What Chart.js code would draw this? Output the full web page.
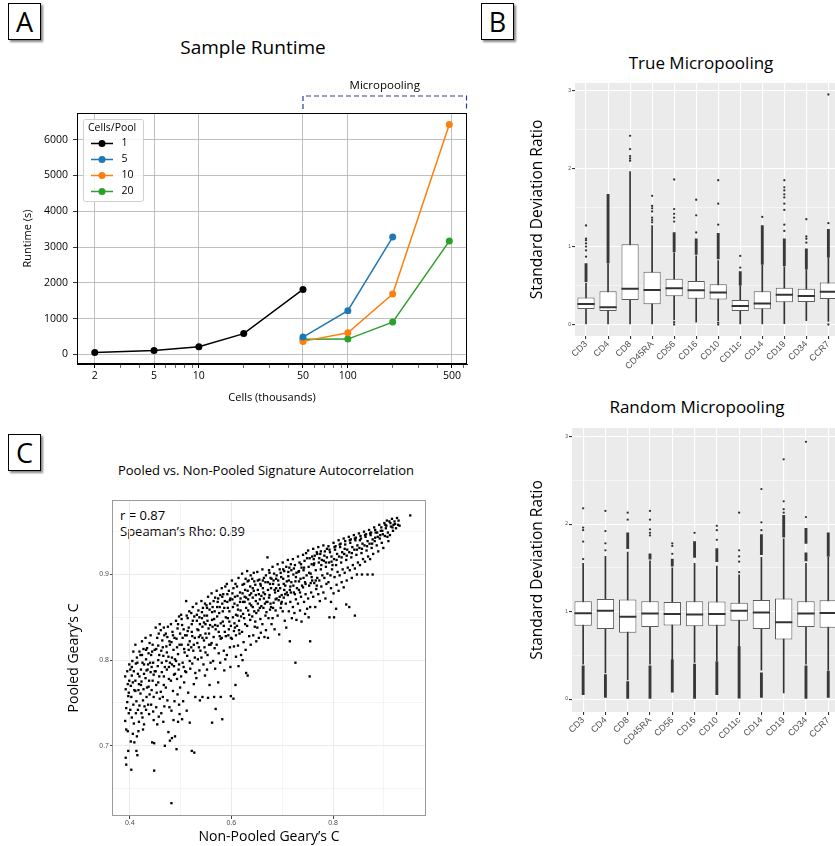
<!DOCTYPE html>
<html>
<head>
<meta charset="utf-8">
<script src="https://cdn.jsdelivr.net/npm/chart.js@4.4.1/dist/chart.umd.min.js"></script>
<style>
    html, body { margin: 0; padding: 0; background: #fff; }
    body { width: 835px; height: 846px; overflow: hidden; position: relative; font-family: "Open Sans", sans-serif; color: #000; }
    canvas { position: absolute; }
    .tag { position: absolute; width: 31px; height: 35px; border: 1.5px solid #000; box-shadow: 2px 2px 2px #888; background: #fff;
           font-size: 27px; line-height: 35px; text-align: center; }
    .title { position: absolute; white-space: nowrap; transform: translate(-50%, -50%); }
    .note { position: absolute; white-space: nowrap; transform: translateY(-50%); font-size: 13px; }
</style>
</head>
<body>
<div class="tag" style="left:8px;top:3px">A</div>
<div class="tag" style="left:481px;top:3px">B</div>
<div class="tag" style="left:8px;top:434px">C</div>

<div class="title" style="left:253px;top:47px;font-size:19px">Sample Runtime</div>
<div class="title" style="left:701px;top:62px;font-size:17px">True Micropooling</div>
<div class="title" style="left:697px;top:406px;font-size:17px">Random Micropooling</div>
<div class="title" style="left:266px;top:470px;font-size:13px">Pooled vs. Non-Pooled Signature Autocorrelation</div>
<div class="note" style="left:120px;top:515px">r = 0.87</div>
<div class="note" style="left:120px;top:531px">Speaman’s Rho: 0.89</div>

<canvas id="runtime" width="466" height="340" style="left:14px;top:70px"></canvas>
<canvas id="truePool" width="330" height="350" style="left:520px;top:50px"></canvas>
<canvas id="randomPool" width="330" height="365" style="left:520px;top:395px"></canvas>
<canvas id="geary" width="385" height="356" style="left:50px;top:490px"></canvas>

<script>
// ---- A: sample runtime ----
const cellsSingle = [2, 5, 10, 20, 50];
const runtimeSingle = [50, 110, 215, 580, 1815];
const cellsPooled = [50, 100, 200, 480];
const runtimePool5 = [483, 1220, 3277];
const runtimePool10 = [363, 605, 1685, 6425];
const runtimePool20 = [420, 427, 902, 3165];
const poolLabels = ['1', '5', '10', '20'];
const poolColors = ['#000000', '#1f77b4', '#ff7f0e', '#2ca02c'];
const runtimeTicks = [0, 1000, 2000, 3000, 4000, 5000, 6000];
const cellsMajorTicks = [2, 5, 10, 50, 100, 500];
const cellsMinorTicks = [3, 4, 6, 7, 8, 9, 20, 30, 40, 60, 70, 80, 90, 200, 300, 400, 600];

// ---- B: standard deviation ratio per marker ----
const markers = ['CD3', 'CD4', 'CD8', 'CD45RA', 'CD56', 'CD16', 'CD10', 'CD11c', 'CD14', 'CD19', 'CD34', 'CCR7'];
const sdTicks = [0, 0.5, 1, 1.5, 2, 2.5, 3];

const trueLow  = [0, 0, 0, 0, 0.06, 0.03, 0.05, 0, 0, 0.01, 0.05, 0.04];
const trueQ1   = [0.2, 0.174, 0.315, 0.26, 0.362, 0.33, 0.32, 0.174, 0.196, 0.285, 0.29, 0.328];
const trueMed  = [0.264, 0.22, 0.46, 0.443, 0.464, 0.44, 0.41, 0.238, 0.268, 0.38, 0.366, 0.42];
const trueQ3   = [0.345, 0.425, 1.03, 0.677, 0.587, 0.557, 0.515, 0.315, 0.425, 0.472, 0.46, 0.54];
const trueHigh = [0.53, 0.78, 1.96, 1.27, 0.92, 0.88, 0.82, 0.49, 0.76, 0.74, 0.7, 0.85];
// runs of overlapping outliers: [marker, from, to]
const trueBands = [
    ['CD3', 0.55, 0.78], ['CD4', 0.79, 1.67], ['CD56', 0.93, 1.18], ['CD16', 0.9, 1.1],
    ['CD10', 0.84, 1.17], ['CD11c', 0.5, 0.68], ['CD14', 0.77, 1.27], ['CD19', 0.75, 1.1],
    ['CD34', 0.71, 0.97], ['CCR7', 0.86, 1.22]
];
const trueOutliers = [
    ['CD3', 0.87], ['CD3', 0.95], ['CD3', 1.0], ['CD3', 1.04], ['CD3', 1.08], ['CD3', 1.1], ['CD3', 1.27],
    ['CD8', 2.1], ['CD8', 2.13], ['CD8', 2.16], ['CD8', 2.25], ['CD8', 2.42],
    ['CD45RA', 1.31], ['CD45RA', 1.34], ['CD45RA', 1.37], ['CD45RA', 1.45], ['CD45RA', 1.49], ['CD45RA', 1.52], ['CD45RA', 1.65],
    ['CD56', 0.0], ['CD56', 0.03], ['CD56', 1.32], ['CD56', 1.37], ['CD56', 1.42], ['CD56', 1.48], ['CD56', 1.86],
    ['CD16', 1.18], ['CD16', 1.4], ['CD16', 1.6],
    ['CD10', 0.0], ['CD10', 0.025], ['CD10', 1.28], ['CD10', 1.55], ['CD10', 1.85],
    ['CD11c', 0.73], ['CD11c', 0.88],
    ['CD14', 1.38],
    ['CD19', 1.2], ['CD19', 1.28], ['CD19', 1.47], ['CD19', 1.55], ['CD19', 1.63], ['CD19', 1.67], ['CD19', 1.72], ['CD19', 1.76], ['CD19', 1.85],
    ['CD34', 1.05], ['CD34', 1.1], ['CD34', 1.13], ['CD34', 1.35],
    ['CCR7', 0.0], ['CCR7', 1.3], ['CCR7', 2.95]
];

const randLow  = [0.4, 0.3, 0.22, 0.4, 0.45, 0.42, 0.44, 0.6, 0.33, 0.07, 0.4, 0.33];
const randQ1   = [0.837, 0.8, 0.757, 0.825, 0.84, 0.833, 0.837, 0.894, 0.8, 0.68, 0.825, 0.814];
const randMed  = [0.98, 1.01, 0.94, 0.977, 0.973, 0.966, 0.973, 1.008, 0.99, 0.878, 0.977, 0.985];
const randQ3   = [1.118, 1.145, 1.137, 1.118, 1.11, 1.118, 1.114, 1.1, 1.133, 1.148, 1.118, 1.13];
const randHigh = [1.55, 1.63, 1.68, 1.58, 1.5, 1.55, 1.52, 1.42, 1.62, 1.83, 1.55, 1.62];
const randBands = [
    ['CD3', 0.05, 0.38], ['CD4', 0.02, 0.28], ['CD8', 0.0, 0.2], ['CD8', 1.72, 1.9],
    ['CD45RA', 0.0, 0.38], ['CD45RA', 1.6, 1.66], ['CD56', 0.08, 0.45], ['CD56', 1.52, 1.6],
    ['CD16', 0.0, 0.4], ['CD16', 1.62, 1.8], ['CD10', 0.05, 0.43], ['CD10', 1.57, 1.72],
    ['CD11c', 0.01, 0.6], ['CD14', 0.02, 0.3], ['CD14', 1.65, 1.88], ['CD19', 1.85, 2.1],
    ['CD34', 0.0, 0.38], ['CD34', 1.58, 1.67], ['CD34', 1.78, 1.95], ['CCR7', 0.02, 0.32], ['CCR7', 1.63, 1.9]
];
const randOutliers = [
    ['CD3', 1.6], ['CD3', 1.8], ['CD3', 1.93], ['CD3', 1.96], ['CD3', 2.18],
    ['CD4', 1.7], ['CD4', 1.78], ['CD4', 1.92], ['CD4', 2.15],
    ['CD8', 2.05], ['CD8', 2.13],
    ['CD45RA', 1.87], ['CD45RA', 1.9], ['CD45RA', 1.94], ['CD45RA', 2.05], ['CD45RA', 2.15],
    ['CD56', 1.66], ['CD56', 1.75], ['CD56', 1.78],
    ['CD16', 1.9],
    ['CD10', 1.82], ['CD10', 1.93], ['CD10', 1.98],
    ['CD11c', 1.45], ['CD11c', 1.57], ['CD11c', 1.63], ['CD11c', 1.7], ['CD11c', 2.13],
    ['CD14', 1.93], ['CD14', 2.02], ['CD14', 2.4],
    ['CD19', 2.13], ['CD19', 2.17], ['CD19', 2.26], ['CD19', 2.74],
    ['CD34', 2.08], ['CD34', 2.94]
];

// ---- C: Geary's C, [non-pooled, pooled] per signature ----
const gearyPairs = [
    [0.391,0.781],[0.392,0.766],[0.393,0.744],[0.391,0.729],[0.393,0.719],[0.392,0.686],[0.393,0.678],[0.395,0.787],[0.396,0.772],
    [0.397,0.758],[0.395,0.751],[0.398,0.738],[0.396,0.717],[0.397,0.694],[0.399,0.795],[0.399,0.776],[0.398,0.762],
    [0.401,0.789],[0.402,0.770],[0.401,0.742],[0.403,0.672],[0.404,0.782],[0.403,0.757],[0.405,0.799],[0.406,0.774],[0.404,0.733],
    [0.407,0.748],[0.406,0.714],[0.408,0.787],[0.409,0.765],[0.408,0.726],[0.409,0.704],[0.402,0.705],[0.407,0.81],
    [0.411,0.818],[0.412,0.796],[0.411,0.776],[0.413,0.752],[0.412,0.738],[0.414,0.711],[0.415,0.689],[0.414,0.803],[0.416,0.784],
    [0.417,0.765],[0.416,0.742],[0.418,0.728],[0.419,0.81],[0.418,0.772],[0.419,0.747],[0.413,0.694],[0.417,0.717],
    [0.421,0.806],[0.422,0.789],[0.421,0.761],[0.423,0.738],[0.424,0.822],[0.423,0.775],[0.425,0.797],[0.426,0.753],[0.425,0.733],
    [0.427,0.813],[0.428,0.784],[0.427,0.766],[0.429,0.746],[0.428,0.725],[0.426,0.719],
    [0.431,0.826],[0.432,0.801],[0.431,0.779],[0.433,0.757],[0.432,0.742],[0.434,0.814],[0.435,0.789],[0.434,0.768],[0.436,0.748],
    [0.437,0.808],[0.436,0.795],[0.438,0.776],[0.439,0.76],[0.438,0.737],[0.439,0.82],
    [0.441,0.829],[0.442,0.806],[0.441,0.786],[0.443,0.765],[0.442,0.748],[0.444,0.704],[0.445,0.818],[0.446,0.797],[0.445,0.776],
    [0.447,0.757],[0.446,0.74],[0.448,0.671],[0.448,0.703],[0.449,0.812],[0.449,0.787],[0.447,0.73],
    [0.451,0.838],[0.454,0.826],[0.457,0.831],[0.452,0.813],[0.458,0.806],[0.455,0.793],[0.451,0.787],[0.456,0.774],[0.453,0.762],
    [0.459,0.755],[0.452,0.745],[0.457,0.734],[0.454,0.725],[0.459,0.842],[0.456,0.8],
    [0.461,0.835],[0.464,0.823],[0.468,0.829],[0.462,0.811],[0.466,0.805],[0.469,0.792],[0.463,0.786],[0.467,0.771],[0.461,0.763],
    [0.465,0.757],[0.468,0.746],[0.462,0.738],[0.466,0.728],[0.469,0.7],[0.467,0.838],
    [0.471,0.831],[0.475,0.839],[0.478,0.822],[0.472,0.816],[0.476,0.804],[0.479,0.797],[0.473,0.789],[0.477,0.778],[0.471,0.768],
    [0.474,0.753],[0.478,0.745],[0.476,0.716],[0.479,0.706],[0.473,0.809],
    [0.481,0.842],[0.484,0.833],[0.488,0.826],[0.482,0.821],[0.486,0.812],[0.489,0.801],[0.483,0.795],[0.487,0.783],[0.481,0.776],
    [0.485,0.764],[0.488,0.752],[0.482,0.741],[0.486,0.73],[0.483,0.709],[0.489,0.711],[0.482,0.633],
    [0.491,0.846],[0.494,0.837],[0.497,0.851],[0.492,0.825],[0.498,0.818],[0.495,0.807],[0.491,0.799],[0.496,0.789],[0.493,0.778],
    [0.499,0.768],[0.494,0.76],[0.497,0.748],[0.492,0.696],[0.495,0.728],[0.498,0.737],
    [0.501,0.853],[0.503,0.841],[0.506,0.836],[0.502,0.818],[0.508,0.809],[0.504,0.797],[0.501,0.781],[0.507,0.774],[0.505,0.752],
    [0.509,0.829],[0.503,0.731],[0.506,0.792],
    [0.511,0.869],[0.514,0.849],[0.517,0.857],[0.512,0.829],[0.518,0.822],[0.513,0.805],[0.516,0.812],[0.511,0.786],[0.519,0.79],
    [0.515,0.762],[0.512,0.741],[0.518,0.727],[0.516,0.838],
    [0.521,0.855],[0.524,0.846],[0.527,0.851],[0.522,0.833],[0.528,0.826],[0.525,0.811],[0.521,0.815],[0.523,0.796],[0.529,0.785],
    [0.526,0.772],[0.522,0.694],[0.527,0.692],[0.529,0.757],[0.524,0.862],
    [0.531,0.866],[0.535,0.858],[0.538,0.842],[0.532,0.846],[0.536,0.827],[0.533,0.82],[0.539,0.811],[0.534,0.801],[0.537,0.788],
    [0.531,0.779],[0.538,0.753],[0.535,0.835],
    [0.541,0.869],[0.544,0.861],[0.548,0.866],[0.542,0.849],[0.546,0.844],[0.549,0.831],[0.543,0.826],[0.547,0.815],[0.541,0.803],
    [0.545,0.795],[0.548,0.782],[0.543,0.757],[0.549,0.809],
    [0.551,0.864],[0.554,0.874],[0.557,0.859],[0.552,0.852],[0.558,0.841],[0.555,0.837],[0.551,0.826],[0.556,0.818],[0.553,0.806],
    [0.559,0.797],[0.552,0.789],[0.557,0.771],[0.554,0.756],
    [0.561,0.878],[0.565,0.869],[0.568,0.873],[0.562,0.856],[0.566,0.848],[0.563,0.839],[0.569,0.836],[0.561,0.82],[0.567,0.814],
    [0.564,0.799],[0.568,0.79],[0.562,0.727],[0.569,0.743],[0.566,0.757],
    [0.571,0.881],[0.574,0.872],[0.578,0.876],[0.572,0.862],[0.576,0.855],[0.579,0.843],[0.573,0.84],[0.577,0.828],[0.571,0.818],
    [0.575,0.808],[0.578,0.797],[0.574,0.774],[0.579,0.757],
    [0.581,0.884],[0.584,0.877],[0.588,0.886],[0.582,0.866],[0.586,0.861],[0.589,0.85],[0.583,0.845],[0.587,0.833],[0.581,0.826],
    [0.585,0.811],[0.588,0.801],[0.582,0.731],[0.586,0.788],
    [0.591,0.889],[0.595,0.881],[0.598,0.872],[0.592,0.868],[0.596,0.857],[0.593,0.849],[0.599,0.84],[0.594,0.829],[0.597,0.815],
    [0.591,0.806],[0.598,0.792],[0.595,0.836],[0.599,0.758],
    [0.601,0.893],[0.604,0.884],[0.608,0.889],[0.602,0.871],[0.606,0.866],[0.609,0.853],[0.603,0.85],[0.607,0.838],[0.601,0.825],
    [0.605,0.816],[0.609,0.804],[0.604,0.755],[0.608,0.771],[0.606,0.843],
    [0.611,0.886],[0.614,0.896],[0.617,0.879],[0.612,0.864],[0.618,0.858],[0.615,0.846],[0.611,0.84],[0.616,0.831],[0.613,0.817],
    [0.619,0.806],[0.614,0.793],[0.618,0.872],[0.612,0.852],
    [0.621,0.901],[0.625,0.889],[0.628,0.895],[0.622,0.878],[0.626,0.868],[0.629,0.861],[0.623,0.854],[0.627,0.842],[0.621,0.833],
    [0.624,0.821],[0.628,0.812],[0.622,0.8],[0.629,0.785],[0.626,0.874],
    [0.631,0.904],[0.634,0.893],[0.638,0.899],[0.632,0.881],[0.636,0.876],[0.639,0.864],[0.633,0.858],[0.637,0.847],[0.631,0.84],
    [0.635,0.828],[0.638,0.818],[0.632,0.782],[0.636,0.866],
    [0.641,0.895],[0.644,0.902],[0.647,0.888],[0.642,0.873],[0.648,0.869],[0.645,0.857],[0.641,0.851],[0.646,0.839],[0.643,0.829],
    [0.649,0.822],[0.647,0.845],[0.642,0.884],
    [0.651,0.903],[0.655,0.894],[0.658,0.887],[0.652,0.882],[0.656,0.871],[0.659,0.863],[0.653,0.858],[0.657,0.848],[0.651,0.838],
    [0.654,0.826],[0.658,0.832],[0.652,0.866],
    [0.661,0.906],[0.664,0.896],[0.668,0.899],[0.662,0.884],[0.666,0.877],[0.669,0.868],[0.663,0.861],[0.667,0.852],[0.661,0.842],
    [0.665,0.827],[0.668,0.835],[0.664,0.872],
    [0.671,0.92],[0.674,0.905],[0.677,0.896],[0.672,0.891],[0.678,0.884],[0.675,0.876],[0.671,0.868],[0.676,0.859],[0.673,0.849],
    [0.679,0.842],[0.672,0.826],[0.677,0.866],[0.675,0.902],
    [0.681,0.909],[0.684,0.901],[0.688,0.895],[0.682,0.889],[0.686,0.879],[0.689,0.872],[0.683,0.867],[0.687,0.858],[0.681,0.849],
    [0.685,0.836],[0.688,0.884],[0.682,0.861],
    [0.691,0.912],[0.695,0.906],[0.698,0.897],[0.692,0.893],[0.696,0.884],[0.699,0.876],[0.693,0.87],[0.697,0.861],[0.691,0.852],
    [0.694,0.83],[0.698,0.866],[0.692,0.881],
    [0.701,0.914],[0.704,0.904],[0.708,0.909],[0.702,0.895],[0.706,0.887],[0.709,0.879],[0.703,0.873],[0.707,0.866],[0.701,0.857],
    [0.705,0.846],[0.708,0.838],[0.703,0.889],
    [0.711,0.917],[0.714,0.908],[0.717,0.912],[0.712,0.898],[0.718,0.891],[0.715,0.882],[0.711,0.876],[0.716,0.868],[0.713,0.857],
    [0.719,0.849],[0.715,0.822],[0.717,0.879],[0.712,0.903],
    [0.721,0.918],[0.725,0.911],[0.728,0.902],[0.722,0.9],[0.726,0.892],[0.729,0.884],[0.723,0.879],[0.727,0.871],[0.721,0.862],
    [0.724,0.855],[0.728,0.847],[0.726,0.797],[0.722,0.887],
    [0.731,0.921],[0.734,0.914],[0.738,0.908],[0.732,0.903],[0.736,0.895],[0.739,0.887],[0.733,0.882],[0.737,0.874],[0.731,0.866],
    [0.735,0.858],[0.738,0.845],[0.733,0.892],
    [0.741,0.923],[0.744,0.916],[0.747,0.925],[0.742,0.905],[0.748,0.899],[0.745,0.891],[0.741,0.885],[0.746,0.877],[0.743,0.868],
    [0.749,0.86],[0.745,0.854],[0.742,0.896],
    [0.751,0.928],[0.754,0.919],[0.758,0.912],[0.752,0.909],[0.756,0.901],[0.759,0.893],[0.753,0.887],[0.757,0.879],[0.751,0.872],
    [0.755,0.862],[0.752,0.85],[0.755,0.822],[0.754,0.781],[0.758,0.897],
    [0.761,0.93],[0.764,0.922],[0.768,0.926],[0.762,0.911],[0.766,0.905],[0.769,0.896],[0.763,0.89],[0.767,0.883],[0.761,0.874],
    [0.765,0.862],[0.768,0.887],[0.762,0.918],
    [0.771,0.932],[0.775,0.924],[0.778,0.917],[0.772,0.914],[0.776,0.906],[0.779,0.899],[0.773,0.893],[0.777,0.886],[0.771,0.877],
    [0.774,0.869],[0.776,0.927],
    [0.781,0.934],[0.784,0.927],[0.788,0.92],[0.782,0.916],[0.786,0.909],[0.789,0.901],[0.783,0.896],[0.787,0.889],[0.781,0.879],
    [0.785,0.872],[0.788,0.93],
    [0.791,0.933],[0.794,0.926],[0.797,0.921],[0.792,0.914],[0.798,0.906],[0.795,0.899],[0.791,0.891],[0.796,0.884],[0.793,0.85],
    [0.796,0.868],[0.799,0.911],
    [0.801,0.937],[0.804,0.929],[0.808,0.924],[0.802,0.918],[0.806,0.911],[0.809,0.903],[0.803,0.897],[0.807,0.888],[0.801,0.878],
    [0.802,0.85],[0.806,0.86],[0.805,0.933],
    [0.811,0.94],[0.814,0.932],[0.818,0.926],[0.812,0.921],[0.816,0.914],[0.819,0.906],[0.813,0.899],[0.817,0.891],[0.811,0.881],
    [0.815,0.936],
    [0.821,0.942],[0.824,0.935],[0.828,0.929],[0.822,0.924],[0.826,0.917],[0.829,0.908],[0.823,0.902],[0.827,0.893],[0.821,0.885],
    [0.826,0.865],[0.824,0.939],
    [0.831,0.944],[0.834,0.937],[0.838,0.932],[0.832,0.926],[0.836,0.92],[0.839,0.911],[0.833,0.905],[0.837,0.896],[0.832,0.862],
    [0.835,0.941],
    [0.841,0.946],[0.844,0.94],[0.848,0.934],[0.842,0.929],[0.846,0.923],[0.849,0.914],[0.843,0.907],[0.847,0.9],[0.843,0.852],
    [0.845,0.943],
    [0.851,0.948],[0.855,0.942],[0.858,0.936],[0.852,0.931],[0.856,0.925],[0.859,0.918],[0.853,0.911],[0.857,0.9],[0.854,0.945],
    [0.861,0.95],[0.864,0.944],[0.868,0.939],[0.862,0.934],[0.866,0.928],[0.869,0.921],[0.863,0.915],[0.868,0.9],[0.865,0.947],
    [0.871,0.952],[0.874,0.946],[0.878,0.941],[0.872,0.936],[0.876,0.931],[0.879,0.924],[0.873,0.918],[0.878,0.9],[0.875,0.949],
    [0.881,0.955],[0.884,0.949],[0.888,0.944],[0.882,0.939],[0.886,0.934],[0.889,0.927],[0.883,0.952],
    [0.891,0.958],[0.894,0.951],[0.898,0.947],[0.892,0.942],[0.896,0.937],[0.899,0.931],[0.895,0.955],
    [0.901,0.96],[0.904,0.954],[0.908,0.949],[0.902,0.945],[0.906,0.963],[0.909,0.939],[0.905,0.957],
    [0.911,0.962],[0.914,0.956],[0.918,0.951],[0.912,0.946],[0.916,0.965],[0.919,0.958],[0.921,0.962],[0.924,0.954],[0.926,0.966],
    [0.928,0.958],[0.929,0.963],[0.931,0.957],
    [0.952,0.969],
    // second pass over the dense band
    [0.404,0.792],[0.411,0.764],[0.415,0.797],[0.419,0.781],[0.422,0.771],[0.424,0.806],[0.428,0.795],[0.432,0.812],[0.433,0.788],
    [0.437,0.769],[0.44,0.797],[0.444,0.81],
    [0.443,0.792],[0.447,0.783],[0.452,0.771],[0.456,0.817],[0.458,0.781],[0.463,0.797],[0.465,0.815],[0.467,0.781],[0.472,0.799],
    [0.474,0.827],[0.477,0.792],[0.479,0.818],[0.483,0.803],[0.485,0.829],[0.487,0.793],[0.489,0.784],[0.493,0.815],[0.495,0.842],
    [0.497,0.795],[0.499,0.831],
    [0.502,0.848],[0.504,0.826],[0.507,0.813],[0.509,0.787],[0.512,0.852],[0.514,0.834],[0.515,0.818],[0.518,0.799],[0.522,0.842],
    [0.523,0.828],[0.526,0.818],[0.528,0.803],[0.532,0.853],[0.533,0.836],[0.536,0.815],[0.537,0.85],[0.539,0.829],[0.542,0.856],
    [0.543,0.839],[0.546,0.823],[0.547,0.852],[0.549,0.842],
    [0.552,0.861],[0.553,0.846],[0.556,0.831],[0.558,0.866],[0.559,0.818],[0.562,0.847],[0.563,0.862],[0.565,0.827],[0.567,0.857],
    [0.568,0.841],[0.572,0.851],[0.573,0.868],[0.575,0.833],[0.577,0.862],[0.579,0.825],
    [0.582,0.874],[0.583,0.857],[0.585,0.84],[0.587,0.869],[0.589,0.828],[0.592,0.877],[0.593,0.861],[0.596,0.845],[0.597,0.87],
    [0.599,0.826],[0.602,0.878],[0.603,0.862],[0.605,0.834],[0.607,0.874],[0.609,0.829],
    [0.612,0.875],[0.613,0.859],[0.615,0.835],[0.617,0.868],[0.619,0.851],[0.622,0.888],[0.623,0.868],[0.625,0.849],[0.627,0.882],
    [0.629,0.873],[0.632,0.892],[0.633,0.871],[0.635,0.853],[0.637,0.886],[0.639,0.878],
    [0.642,0.862],[0.644,0.881],[0.645,0.892],[0.648,0.876],[0.649,0.855],[0.652,0.893],[0.654,0.877],[0.656,0.861],[0.657,0.889],
    [0.659,0.875],[0.662,0.893],[0.663,0.879],[0.666,0.866],[0.667,0.891],[0.669,0.856],
    [0.672,0.882],[0.674,0.873],[0.676,0.889],[0.678,0.862],[0.679,0.895],[0.683,0.893],[0.685,0.882],[0.687,0.871],[0.689,0.899],
    [0.693,0.888],[0.695,0.874],[0.697,0.902],[0.699,0.868],
    [0.702,0.906],[0.704,0.882],[0.706,0.877],[0.709,0.892],[0.713,0.893],[0.716,0.886],[0.718,0.905],[0.723,0.907],[0.725,0.877],
    [0.727,0.897],[0.733,0.904],[0.735,0.879],[0.737,0.912],
    [0.743,0.908],[0.746,0.889],[0.749,0.919],[0.753,0.902],[0.756,0.89],[0.759,0.921],[0.763,0.913],[0.766,0.893],[0.769,0.924],
    [0.773,0.919],[0.777,0.911],[0.783,0.922],[0.786,0.914],[0.793,0.929],[0.797,0.915],
    [0.803,0.932],[0.807,0.917],[0.813,0.935],[0.817,0.92],[0.823,0.93],[0.827,0.922],[0.833,0.94],[0.837,0.925],[0.843,0.942],
    [0.847,0.929],[0.853,0.94],[0.857,0.93],[0.863,0.946],[0.867,0.933],[0.873,0.948],[0.877,0.936],[0.883,0.943],[0.887,0.949],
    [0.893,0.946],[0.897,0.951],[0.903,0.958],[0.907,0.944],[0.913,0.96],[0.917,0.955],[0.922,0.959]
];
const gearyXTicks = [0.4, 0.5, 0.6, 0.7, 0.8, 0.9];
const gearyXLabels = [0.4, 0.6, 0.8];
const gearyYTicks = [0.65, 0.7, 0.75, 0.8, 0.85, 0.9, 0.95];
const gearyYLabels = [0.7, 0.8, 0.9];

Chart.defaults.font.family = '"Open Sans", sans-serif';
Chart.defaults.color = '#000';

// fixed axis box sizes so the plot areas land where the figure has them
const fixWidth = w => axis => { axis.width = w; };
const fixHeight = h => axis => { axis.height = h; };
const setTicks = list => axis => { axis.ticks = list.map(v => ({ value: v })); };

function framePlugin(color) {
    return {
        id: 'frame',
        afterDraw(chart) {
            const { ctx, chartArea: a } = chart;
            ctx.save();
            ctx.strokeStyle = color;
            ctx.lineWidth = 1;
            ctx.strokeRect(Math.round(a.left) + 0.5, Math.round(a.top) + 0.5, Math.round(a.width) - 1, Math.round(a.height) - 1);
            ctx.restore();
        }
    };
}

const panelBackground = {
    id: 'panelBackground',
    beforeDraw(chart) {
        const { ctx, chartArea: a } = chart;
        ctx.save();
        ctx.fillStyle = '#ebebeb';
        ctx.fillRect(a.left, a.top, a.width, a.height);
        ctx.restore();
    }
};

// matplotlib style legend box + the "Micropooling" bracket
const runtimeDecor = {
    id: 'runtimeDecor',
    afterDatasetsDraw(chart) {
        const { ctx, chartArea: a } = chart;
        const x0 = a.left + 6, y0 = a.top + 6;
        ctx.save();
        ctx.fillStyle = 'rgba(255,255,255,0.85)';
        ctx.strokeStyle = '#d0d0d0';
        ctx.lineWidth = 1;
        ctx.beginPath();
        ctx.roundRect(x0 + 0.5, y0 + 0.5, 60, 82, 2);
        ctx.fill();
        ctx.stroke();
        ctx.fillStyle = '#000';
        ctx.font = '10.5px "Open Sans"';
        ctx.textBaseline = 'middle';
        ctx.fillText('Cells/Pool', x0 + 5, y0 + 9);
        chart.data.datasets.forEach((ds, i) => {
            const y = y0 + 24.5 + 16 * i;
            ctx.strokeStyle = ds.borderColor;
            ctx.lineWidth = 1.5;
            ctx.beginPath();
            ctx.moveTo(x0 + 8, y);
            ctx.lineTo(x0 + 30, y);
            ctx.stroke();
            ctx.fillStyle = ds.borderColor;
            ctx.beginPath();
            ctx.arc(x0 + 19, y, 3.5, 0, Math.PI * 2);
            ctx.fill();
            ctx.fillStyle = '#000';
            ctx.fillText(ds.label, x0 + 38.5, y);
        });

        const x1 = chart.scales.x.getPixelForValue(50), x2 = a.right - 0.5;
        const yLine = a.top - 17, yEnd = a.top - 4;
        ctx.strokeStyle = '#2b3a9b';
        ctx.lineWidth = 1.2;
        ctx.setLineDash([5, 3]);
        ctx.beginPath();
        ctx.moveTo(x1, yEnd);
        ctx.lineTo(x1, yLine);
        ctx.lineTo(x2, yLine);
        ctx.lineTo(x2, yEnd);
        ctx.stroke();
        ctx.setLineDash([]);
        ctx.fillStyle = '#000';
        ctx.font = '11.5px "Open Sans"';
        ctx.textAlign = 'center';
        ctx.fillText('Micropooling', (x1 + x2) / 2, a.top - 27);
        ctx.restore();
    }
};

function runtimeSeries(label, xs, ys, color) {
    return {
        label: label,
        data: ys.map((y, i) => ({ x: xs[i], y: y })),
        borderColor: color,
        backgroundColor: color,
        borderWidth: 1.5,
        pointRadius: 3.5,
        pointBorderWidth: 0,
        tension: 0
    };
}

new Chart(document.getElementById('runtime'), {
    type: 'line',
    data: {
        datasets: [
            runtimeSeries(poolLabels[0], cellsSingle, runtimeSingle, poolColors[0]),
            runtimeSeries(poolLabels[1], cellsPooled, runtimePool5, poolColors[1]),
            runtimeSeries(poolLabels[2], cellsPooled, runtimePool10, poolColors[2]),
            runtimeSeries(poolLabels[3], cellsPooled, runtimePool20, poolColors[3])
        ]
    },
    options: {
        responsive: false,
        animation: false,
        layout: { padding: { left: 0, top: 43, right: 13, bottom: 0 } },
        plugins: { legend: { display: false }, tooltip: { enabled: false } },
        scales: {
            x: {
                type: 'logarithmic',
                min: 1.52,
                max: 631,
                afterBuildTicks: setTicks(cellsMajorTicks.concat(cellsMinorTicks).sort((a, b) => a - b)),
                afterFit: fixHeight(46),
                border: { color: '#000' },
                grid: {
                    color: c => cellsMajorTicks.includes(c.tick && c.tick.value) ? '#b0b0b0' : 'rgba(0,0,0,0)',
                    lineWidth: 0.8,
                    tickLength: 4,
                    tickColor: '#000',
                    tickWidth: c => cellsMajorTicks.includes(c.tick && c.tick.value) ? 1 : 0.6
                },
                ticks: {
                    autoSkip: false,
                    maxRotation: 0,
                    padding: 2,
                    font: { size: 10.5 },
                    callback: v => cellsMajorTicks.includes(v) ? String(v) : ''
                },
                title: { display: true, text: 'Cells (thousands)', font: { size: 11 }, padding: { top: 0, bottom: 6 } }
            },
            y: {
                min: -269,
                max: 6744,
                afterBuildTicks: setTicks(runtimeTicks),
                afterFit: fixWidth(63),
                border: { color: '#000' },
                grid: { color: '#b0b0b0', lineWidth: 0.8, tickLength: 4, tickColor: '#000' },
                ticks: { padding: 5, font: { size: 10.5 }, callback: v => String(v) },
                title: { display: true, text: 'Runtime (s)', font: { size: 11 }, padding: { top: 7, bottom: 0 } }
            }
        }
    },
    plugins: [runtimeDecor, framePlugin('#000')]
});

function boxPlot(canvasId, s, geom) {
    const datasets = [
        { type: 'bar', order: 5, data: s.low.map((v, i) => [v, s.high[i]]), backgroundColor: '#333', barThickness: 1, grouped: false },
        { type: 'bar', order: 4, data: s.bands.map(b => ({ x: b[0], y: [b[1], b[2]] })), backgroundColor: '#383838', barThickness: 2.2, grouped: false },
        { type: 'bar', order: 3, data: s.q1.map((v, i) => [v, s.q3[i]]), backgroundColor: '#fff', borderColor: '#5a5a5a', borderWidth: 1,
          borderSkipped: false, barPercentage: 0.78, categoryPercentage: 1, grouped: false },
        { type: 'line', order: 2, data: s.med.map((v, i) => ({ x: markers[i], y: v })), showLine: false,
          pointStyle: 'line', pointRadius: 8.6, pointBorderColor: '#333', pointBorderWidth: 2 },
        { type: 'line', order: 1, data: s.outliers.map(o => ({ x: o[0], y: o[1] })), showLine: false,
          pointRadius: 1.15, pointBackgroundColor: '#333', pointBorderWidth: 0 }
    ];
    new Chart(document.getElementById(canvasId), {
        type: 'bar',
        data: { labels: markers, datasets: datasets },
        options: {
            responsive: false,
            animation: false,
            layout: { padding: { left: 0, top: geom.top, right: geom.right, bottom: 0 } },
            plugins: { legend: { display: false }, tooltip: { enabled: false } },
            scales: {
                x: {
                    afterFit: fixHeight(geom.xHeight),
                    border: { display: false },
                    grid: { offset: false, color: '#fff', lineWidth: 1.1, tickLength: 3, tickColor: '#333' },
                    ticks: { autoSkip: false, minRotation: 45, maxRotation: 45, padding: 0, color: '#4d4d4d',
                             font: { family: '"Liberation Sans", Arial, sans-serif', size: 9 } }
                },
                y: {
                    min: -0.1475,
                    max: 3.0975,
                    afterBuildTicks: setTicks(sdTicks),
                    afterFit: fixWidth(geom.yWidth),
                    border: { display: false },
                    grid: {
                        color: '#fff',
                        lineWidth: c => Number.isInteger(c.tick && c.tick.value) ? 1.1 : 0.5,
                        tickLength: 3,
                        tickColor: c => Number.isInteger(c.tick && c.tick.value) ? '#333' : 'rgba(0,0,0,0)'
                    },
                    ticks: { padding: 1, color: '#4d4d4d', font: { family: '"Liberation Sans", Arial, sans-serif', size: 5 },
                             callback: v => Number.isInteger(v) ? String(v) : '' },
                    title: { display: true, text: 'Standard Deviation Ratio', font: { size: 15.5 }, padding: { top: 8.5, bottom: 0 } }
                }
            }
        },
        plugins: [panelBackground]
    });
}

boxPlot('truePool',
    { low: trueLow, q1: trueQ1, med: trueMed, q3: trueQ3, high: trueHigh, bands: trueBands, outliers: trueOutliers },
    { top: 33, right: 10, xHeight: 64, yWidth: 55 });
boxPlot('randomPool',
    { low: randLow, q1: randQ1, med: randMed, q3: randQ3, high: randHigh, bands: randBands, outliers: randOutliers },
    { top: 33, right: 9, xHeight: 48, yWidth: 52 });

new Chart(document.getElementById('geary'), {
    type: 'scatter',
    data: {
        datasets: [{
            data: gearyPairs.map(p => ({ x: p[0], y: p[1] })),
            pointStyle: 'rect',
            pointRadius: 1.65,
            pointBackgroundColor: '#000',
            pointBorderWidth: 0
        }]
    },
    options: {
        responsive: false,
        animation: false,
        layout: { padding: { left: 0, top: 10, right: 9, bottom: 0 } },
        plugins: { legend: { display: false }, tooltip: { enabled: false } },
        scales: {
            x: {
                min: 0.365,
                max: 0.983,
                afterBuildTicks: setTicks(gearyXTicks),
                afterFit: fixHeight(30),
                border: { display: false },
                grid: {
                    color: '#ebebeb',
                    lineWidth: c => gearyXLabels.includes(c.tick && c.tick.value) ? 1 : 0.5,
                    tickLength: 3,
                    tickColor: c => gearyXLabels.includes(c.tick && c.tick.value) ? '#444' : 'rgba(0,0,0,0)'
                },
                ticks: { padding: 0, maxRotation: 0, color: '#4d4d4d', font: { family: '"Liberation Sans", Arial, sans-serif', size: 7 },
                         callback: v => gearyXLabels.includes(v) ? v.toFixed(1) : '' },
                title: { display: true, text: 'Non-Pooled Geary’s C', font: { size: 14 }, padding: { top: 0, bottom: 1 } }
            },
            y: {
                min: 0.618,
                max: 0.987,
                afterBuildTicks: setTicks(gearyYTicks),
                afterFit: fixWidth(62),
                border: { display: false },
                grid: {
                    color: '#ebebeb',
                    lineWidth: c => gearyYLabels.includes(c.tick && c.tick.value) ? 1 : 0.5,
                    tickLength: 2,
                    tickColor: c => gearyYLabels.includes(c.tick && c.tick.value) ? '#444' : 'rgba(0,0,0,0)'
                },
                ticks: { padding: 1, color: '#4d4d4d', font: { family: '"Liberation Sans", Arial, sans-serif', size: 7 },
                         callback: v => gearyYLabels.includes(v) ? v.toFixed(1) : '' },
                title: { display: true, text: 'Pooled Geary’s C', font: { size: 14 }, padding: { top: 16, bottom: 0 } }
            }
        }
    },
    plugins: [framePlugin('#9a9a9a')]
});
</script>
</body>
</html>
